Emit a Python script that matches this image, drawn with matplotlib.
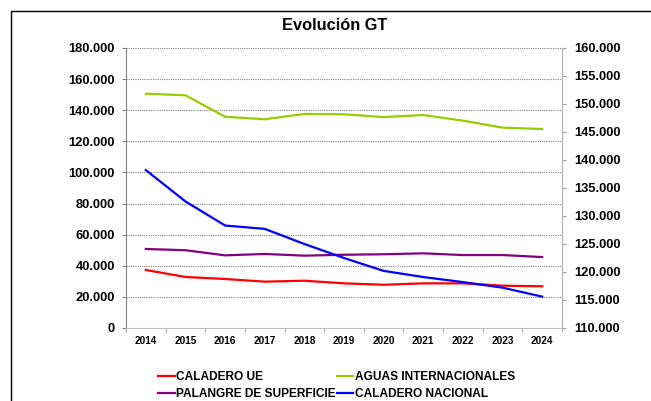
import numpy as np
import matplotlib.pyplot as plt
from matplotlib.patches import Rectangle
from matplotlib.ticker import FuncFormatter

plt.rcParams['font.family'] = ['Liberation Sans', 'DejaVu Sans']
plt.rcParams['font.weight'] = 'bold'

years = ['2014', '2015', '2016', '2017', '2018', '2019', '2020', '2021', '2022', '2023', '2024']
caladero_ue = [37300, 32800, 31500, 29800, 30400, 28700, 27800, 28700, 28700, 27200, 26800]
aguas_int = [150600, 149600, 135800, 134200, 137600, 137400, 135600, 136900, 133300, 128800, 127900]
palangre = [50800, 50000, 46700, 47600, 46500, 47100, 47400, 48000, 46900, 46900, 45600]
caladero_nac = [138200, 132600, 128300, 127700, 125000, 122500, 120200, 119100, 118200, 117200, 115600]

fig = plt.figure(figsize=(6.51, 4.01), dpi=100)
ax = fig.add_axes([126/651, 1-328/401, 436/651, 280/401])
ax2 = ax.twinx()

x = np.arange(len(years))
l1, = ax.plot(x, caladero_ue, color='#ff0000', lw=1.6, label='CALADERO UE')
l2, = ax.plot(x, aguas_int, color='#99cc00', lw=1.6, label='AGUAS INTERNACIONALES')
l3, = ax.plot(x, palangre, color='#800080', lw=1.6, label='PALANGRE DE SUPERFICIE')
l4, = ax2.plot(x, caladero_nac, color='#0000ff', lw=1.6, label='CALADERO NACIONAL')

fmt = FuncFormatter(lambda v, p: f'{v:,.0f}'.replace(',', '.'))

ax.set_xlim(-0.5, 10.5)
ax.set_ylim(0, 180000)
ax.set_yticks(np.arange(0, 180001, 20000))
ax.yaxis.set_major_formatter(fmt)
for yv in range(20000, 180001, 20000):
    ax.axhline(yv, color='#808080', lw=0.8, ls=(0, (1, 1)), zorder=0)

ax2.set_ylim(110000, 160000)
ax2.set_yticks(np.arange(110000, 160001, 5000))
ax2.yaxis.set_major_formatter(fmt)

ax.set_xticks(x)
ax.set_xticklabels(years)
ax.set_xticks(np.arange(-0.5, 11, 1), minor=True)
ax.tick_params(axis='x', which='major', length=0, labelsize=7.2, pad=6)
ax.tick_params(axis='x', which='minor', length=3, color='#a0a0a0')
ax.tick_params(axis='y', labelsize=9.3, length=3, color='#808080', pad=5)
ax2.tick_params(axis='y', labelsize=9.3, length=3, color='#a0a0a0', pad=6)

for a in (ax, ax2):
    a.spines['top'].set_visible(False)
ax.spines['right'].set_visible(False)
ax2.spines['left'].set_visible(False)
ax2.spines['bottom'].set_visible(False)
ax.spines['left'].set_color('#808080')
ax.spines['bottom'].set_color('#c0c0c0')
ax2.spines['right'].set_color('#b0b0b0')

fig.text(335/651, 1-25/401, 'Evolución GT', ha='center', va='center', fontsize=11.8, fontweight='bold')

fig.legend(handles=[l1, l3, l2, l4], loc='upper left', bbox_to_anchor=(158/651, 1-371/401),
           ncol=2, frameon=False, fontsize=8.6, handlelength=1.4, handletextpad=0.1,
           columnspacing=0.1, labelspacing=0.4, borderpad=0, borderaxespad=0)

fig.patches.append(Rectangle((11/651, -0.1), 1.0, 1.1-11/401, transform=fig.transFigure,
                             fill=False, edgecolor='black', lw=1.0))

fig.savefig('out.png', dpi=100)
